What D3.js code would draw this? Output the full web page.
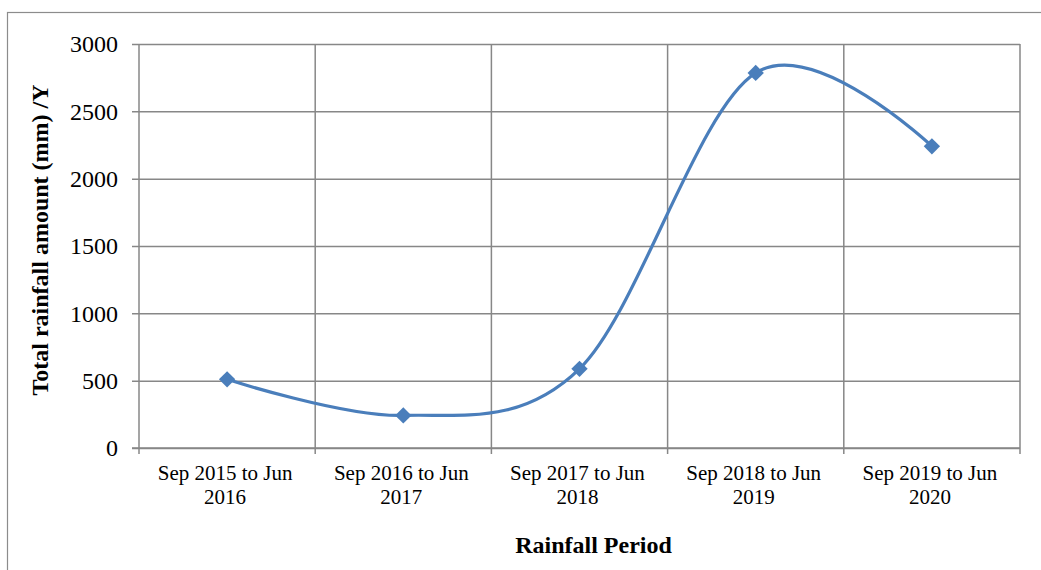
<!DOCTYPE html>
<html><head><meta charset="utf-8">
<script src="https://cdn.jsdelivr.net/npm/d3@7"></script>
<style>body{margin:0;background:#fff}svg{display:block}</style>
</head><body>
<svg id="c" width="1041" height="570"></svg>
<script>
const categories = [["Sep 2015 to Jun","2016"],["Sep 2016 to Jun","2017"],["Sep 2017 to Jun","2018"],["Sep 2018 to Jun","2019"],["Sep 2019 to Jun","2020"]];
const rainfall = [510, 242, 588, 2785, 2240];
const yTicks = [0, 500, 1000, 1500, 2000, 2500, 3000];
const yTitle = "Total rainfall amount (mm) /Y";
const xTitle = "Rainfall Period";

const svg = d3.select("#c");
const font = "'Liberation Serif','Times New Roman',serif";
const m = {l:139, t:44, r:1020, b:448};
const x = d3.scaleBand().domain(d3.range(categories.length)).range([m.l, m.r]).padding(0);
const y = d3.scaleLinear().domain([0, 3000]).range([m.b, m.t]);
const grid = "#878787";

svg.append("rect").attr("x",7.5).attr("y",12.5).attr("width",1040).attr("height",570).attr("fill","none").attr("stroke","#8c8c8c").attr("stroke-width",1.2);

// horizontal gridlines
const yAxis = d3.axisLeft(y).tickValues(yTicks).tickSize(-(m.r-m.l)).tickPadding(21).tickFormat(d3.format("d"));
const gy = svg.append("g").attr("transform",`translate(${m.l},0)`).call(yAxis);
gy.select(".domain").remove();
gy.selectAll(".tick line").attr("stroke",grid).attr("stroke-width",1.5).attr("x1",-7);
gy.selectAll(".tick text").attr("font-family",font).attr("font-size",24).attr("fill","#000").attr("dy","0.32em");

// vertical gridlines at category boundaries
const bounds = d3.range(categories.length+1).map(i => i<categories.length ? x(i) : x(categories.length-1)+x.bandwidth());
svg.append("g").selectAll("line").data(bounds).join("line")
  .attr("x1",d=>d).attr("x2",d=>d).attr("y1",m.t).attr("y2",m.b+6)
  .attr("stroke",grid).attr("stroke-width",1.5);
svg.append("line").attr("x1",m.l-7).attr("x2",m.r).attr("y1",m.b).attr("y2",m.b).attr("stroke",grid).attr("stroke-width",1.5);

// category labels
const gx = svg.append("g");
categories.forEach((c,i)=>{
  const t = gx.append("text").attr("x",x(i)+x.bandwidth()/2 - 2).attr("y",480)
    .attr("text-anchor","middle").attr("font-family",font).attr("font-size",21).attr("fill","#000");
  c.forEach((s,j)=>t.append("tspan").attr("x",x(i)+x.bandwidth()/2 - 2).attr("dy",j?24:0).text(s));
});

// line
const cx = i => x(i)+x.bandwidth()/2;
const line = d3.line().x((d,i)=>cx(i)).y(d=>y(d)).curve(d3.curveCardinal.tension(0));
svg.append("path").datum(rainfall).attr("d",line).attr("fill","none").attr("stroke","#4a7ebb").attr("stroke-width",3.2);
svg.append("g").selectAll("path").data(rainfall).join("path")
  .attr("d",d3.symbol().type(d3.symbolDiamond2).size(170))
  .attr("transform",(d,i)=>`translate(${cx(i)},${y(d)})`)
  .attr("fill","#4a7ebb");

// titles
svg.append("text").attr("x",(m.l+m.r)/2+14).attr("y",553).attr("text-anchor","middle")
  .attr("font-family",font).attr("font-size",24).attr("font-weight","bold").text(xTitle);
svg.append("text").attr("transform",`translate(48,${(m.t+m.b)/2-6}) rotate(-90)`).attr("text-anchor","middle")
  .attr("font-family",font).attr("font-size",24).attr("font-weight","bold").text(yTitle);
</script>
</body></html>
